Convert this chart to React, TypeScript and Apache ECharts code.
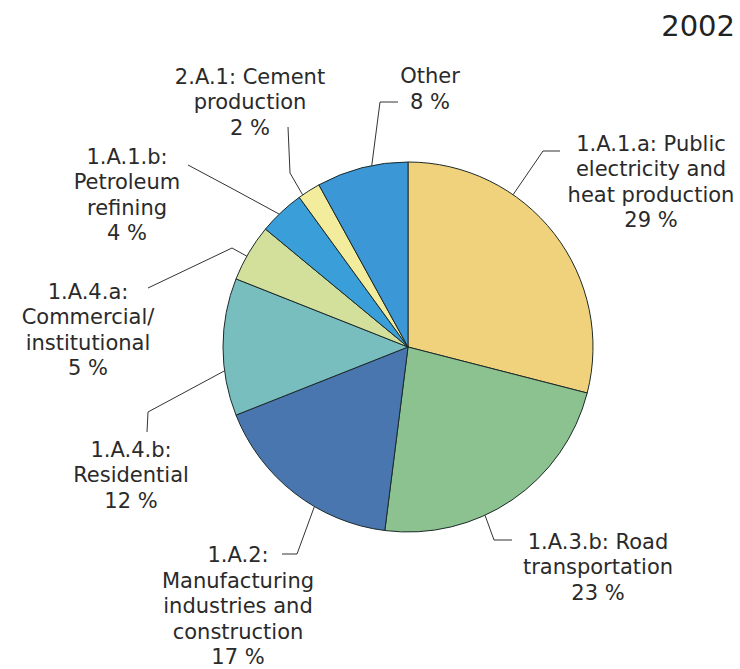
import React, { useEffect, useRef } from "react";
import * as echarts from "echarts";

const title = "2002";
const categories = [
  "1.A.1.a: Public\nelectricity and\nheat production",
  "1.A.3.b: Road\ntransportation",
  "1.A.2:\nManufacturing\nindustries and\nconstruction",
  "1.A.4.b:\nResidential",
  "1.A.4.a:\nCommercial/\ninstitutional",
  "1.A.1.b:\nPetroleum\nrefining",
  "2.A.1: Cement\nproduction",
  "Other",
];
const shares = [29, 23, 17, 12, 5, 4, 2, 8];
const colors = ["#F0D27C", "#8CC28F", "#4A76B0", "#79BEBF", "#D2E09B", "#3A9ED8", "#F2EC9C", "#3C97D6"];

// layout for labels (pixel positions in the 740x669 canvas)
const CX = 408;
const CY = 347;
const R = 185;
const labelCenters = [
  [651, 182],
  [598, 567],
  [238, 606],
  [131, 475],
  [88, 330],
  [127, 195],
  [250, 102],
  [430, 89],
];
// angle (deg clockwise from top) where each guide line leaves the pie
const lineStartAngles = [34.6, 155.4, 210.4, 262.6, 299.4, 315.9, 325.3, 348.7];
const lineBends = [
  [543, 151],
  [494, 540],
  [297, 554],
  [148, 412],
  [232, 248],
  [233, 189],
  [290, 173],
  [380, 102],
];
const lineEnds = [
  [560, 151],
  [512, 540],
  [282, 554],
  [147, 432],
  [148, 288],
  [188, 165],
  [288, 127],
  [398, 102],
];

export default function App() {
  const ref = useRef<HTMLDivElement>(null);
  useEffect(() => {
    if (!ref.current) return;
    const chart = echarts.init(ref.current, null, { renderer: "svg" });
    chart.setOption({
      animation: false,
      backgroundColor: "#ffffff",
      title: {
        text: title,
        right: 0,
        top: 6,
        textStyle: {
          fontFamily: "DejaVu Sans",
          fontSize: 29,
          fontWeight: "normal",
          color: "#222222",
        },
      },
      series: [
        {
          type: "pie",
          center: [CX, CY],
          radius: R,
          startAngle: 90,
          clockwise: true,
          avoidLabelOverlap: false,
          data: categories.map((name, i) => ({
            name,
            value: shares[i],
            itemStyle: { color: colors[i] },
          })),
          itemStyle: { borderColor: "#1c2a2a", borderWidth: 1 },
          label: {
            show: true,
            position: "outside",
            formatter: "{b}\n{c} %",
            fontFamily: "DejaVu Sans",
            fontSize: 21,
            lineHeight: 25.5,
            color: "#2a2a2a",
            align: "center",
          },
          labelLine: {
            show: true,
            length: 10,
            length2: 10,
            lineStyle: { color: "#333333", width: 1 },
          },
          labelLayout: (params: any) => {
            const i = params.dataIndex;
            const a = (lineStartAngles[i] * Math.PI) / 180;
            const start = [CX + R * Math.sin(a), CY - R * Math.cos(a)];
            return {
              x: labelCenters[i][0],
              y: labelCenters[i][1],
              align: "center",
              verticalAlign: "middle",
              labelLinePoints: [start, lineBends[i], lineEnds[i]],
            };
          },
          emphasis: { disabled: true },
        },
      ],
    });
    return () => chart.dispose();
  }, []);
  return (
    <div
      ref={ref}
      style={{ position: "absolute", left: 0, top: 0, width: 740, height: 669 }}
    />
  );
}
